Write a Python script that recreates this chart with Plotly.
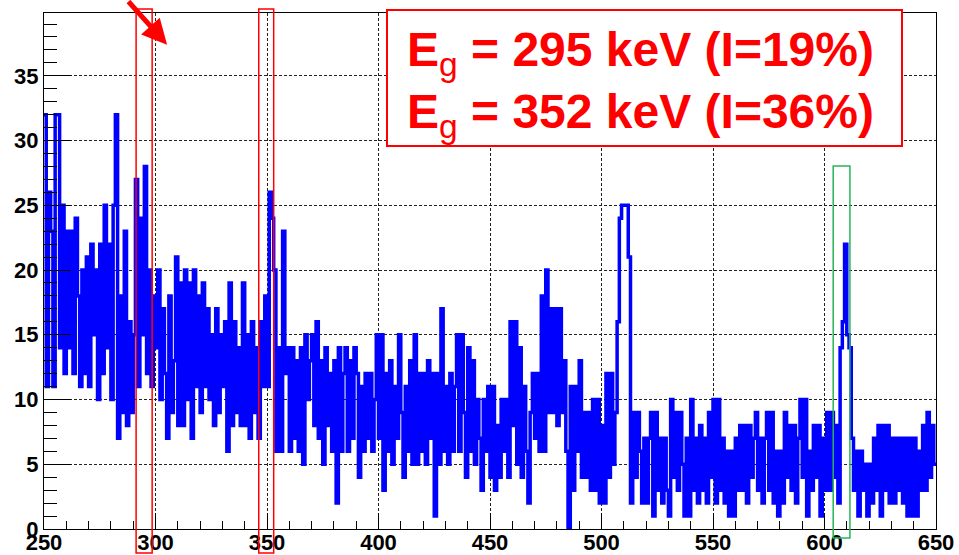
import numpy as np
import plotly.graph_objects as go

# Histogram: counts per 1-keV bin from 250 to 650 keV (lower bin edges)
bin_start = 250
bin_width = 1
counts = [
    32, 11, 26, 23, 11, 32, 32, 14, 25, 12,
    23, 14, 23, 12, 24, 18, 11, 20, 12, 21,
    11, 22, 15, 20, 10, 22, 12, 25, 14, 22,
    10, 25, 32, 7, 18, 9, 23, 8, 16, 9,
    15, 27, 11, 24, 15, 28, 12, 20, 11, 18,
    14, 20, 10, 17, 12, 7, 18, 9, 13, 21,
    8, 19, 8, 20, 10, 19, 7, 20, 11, 18,
    9, 19, 11, 17, 10, 15, 8, 17, 9, 15,
    11, 16, 6, 19, 8, 16, 9, 14, 8, 19,
    8, 15, 7, 16, 9, 14, 7, 16, 11, 18,
    11, 26, 24, 20, 6, 14, 6, 23, 12, 14,
    6, 14, 7, 13, 6, 14, 5, 15, 10, 13,
    15, 8, 16, 7, 13, 5, 14, 8, 12, 6,
    13, 2, 14, 6, 12, 14, 6, 13, 7, 14,
    12, 4, 11, 6, 12, 7, 12, 6, 10, 15,
    7, 15, 3, 12, 6, 13, 5, 11, 7, 15,
    9, 4, 11, 6, 13, 5, 15, 5, 12, 6,
    12, 5, 13, 7, 12, 1, 12, 5, 17, 6,
    11, 5, 12, 6, 11, 15, 6, 15, 9, 4,
    14, 6, 13, 5, 10, 7, 3, 10, 6, 11,
    4, 11, 3, 8, 4, 10, 6, 10, 4, 16,
    8, 16, 5, 14, 4, 11, 6, 2, 9, 12,
    7, 12, 6, 18, 6, 20, 9, 17, 9, 17,
    8, 17, 9, 13, 6, 0, 11, 3, 11, 6,
    13, 4, 9, 4, 9, 3, 10, 3, 10, 2,
    8, 2, 12, 4, 12, 5, 9, 16, 24, 25,
    25, 25, 21, 2, 9, 4, 9, 6, 2, 7,
    2, 7, 9, 1, 9, 3, 7, 2, 7, 3,
    1, 10, 4, 9, 3, 9, 5, 1, 7, 1,
    10, 3, 7, 2, 8, 3, 7, 2, 9, 4,
    10, 2, 10, 3, 7, 2, 6, 1, 6, 1,
    7, 3, 8, 3, 8, 2, 8, 4, 7, 9,
    3, 7, 2, 7, 9, 3, 9, 2, 6, 1,
    6, 2, 9, 4, 8, 3, 8, 2, 7, 10,
    4, 10, 1, 6, 3, 8, 4, 8, 1, 7,
    3, 9, 3, 9, 4, 8, 2, 14, 16, 22,
    15, 14, 7, 3, 6, 1, 6, 3, 5, 1,
    5, 2, 7, 3, 8, 1, 8, 3, 8, 2,
    7, 2, 7, 3, 7, 2, 7, 1, 7, 1,
    7, 1, 6, 3, 8, 3, 9, 4, 8, 5,
]

x_range = [250, 650]
y_range = [0, 39.85]
x_ticks = [250, 300, 350, 400, 450, 500, 550, 600, 650]
y_ticks = [0, 5, 10, 15, 20, 25, 30, 35]

# highlighted windows (keV)
red_windows = [(291.3, 298.5), (346.3, 353.0)]
green_windows = [(603.9, 611.4)]

label_lines = ["295 keV (I=19%)", "352 keV (I=36%)"]

edges = bin_start + bin_width * np.arange(len(counts) + 1)
y_step = list(counts) + [counts[-1]]

fig = go.Figure()
fig.add_trace(go.Scatter(
    x=edges, y=y_step, mode="lines", line_shape="hv",
    line=dict(color="#0000ff", width=3.5), showlegend=False, hoverinfo="skip",
))

tickfont = dict(family="Liberation Sans, Arial, sans-serif", size=22, color="black", weight="bold")
grid = dict(showgrid=True, gridcolor="#222", gridwidth=1, griddash="3px,2px")

fig.update_xaxes(
    range=x_range, tickvals=x_ticks, ticks="inside", ticklen=16, tickwidth=1,
    tickcolor="black", showline=True, linecolor="black", linewidth=1, mirror=True,
    tickfont=tickfont, zeroline=False, automargin=False, ticklabelstandoff=-6,
    minor=dict(dtick=10, ticks="inside", ticklen=8, tickcolor="black", showgrid=False),
    **grid,
)
fig.update_yaxes(
    range=y_range, tickvals=y_ticks, ticks="inside", ticklen=27, tickwidth=1,
    tickcolor="black", showline=True, linecolor="black", linewidth=1, mirror=True,
    tickfont=tickfont, zeroline=False, automargin=False,
    minor=dict(dtick=1, ticks="inside", ticklen=13, tickcolor="black", showgrid=False),
    **grid,
)

L, R, T, B = 44, 23, 13, 26
W, H = 959, 555
pw, ph = W - L - R, H - T - B

def px_x(p):
    return (p - L) / pw

def px_y(p):
    return (H - B - p) / ph

shapes = []
for a, b in red_windows:
    shapes.append(dict(type="rect", xref="x", yref="paper", x0=a, x1=b,
                       y0=px_y(553), y1=px_y(9), line=dict(color="red", width=1.5),
                       layer="above"))
for a, b in green_windows:
    shapes.append(dict(type="rect", xref="x", yref="paper", x0=a, x1=b,
                       y0=px_y(538), y1=px_y(166), line=dict(color="rgb(40,180,90)", width=1.5),
                       layer="above"))
shapes.append(dict(type="rect", xref="paper", yref="paper", x0=px_x(387), x1=px_x(902),
                   y0=px_y(146), y1=px_y(10), line=dict(color="red", width=2),
                   fillcolor="white", layer="above"))

text = "<br>".join(
    "<b>E</b><sub><span style='font-weight:normal'>g</span></sub><b> = " + s + "</b>"
    for s in label_lines
)

annotations = [
    dict(xref="paper", yref="paper", x=px_x(405), y=px_y(21), xanchor="left", yanchor="top",
         text=text, showarrow=False, align="left",
         font=dict(family="Liberation Sans, Arial, sans-serif", size=48, color="red")),
    dict(xref="x", yref="y", x=305.2, y=37.4, text="", showarrow=True,
         arrowhead=2, arrowsize=1.0, arrowwidth=5, arrowcolor="red",
         ax=-40, ay=-58, axref="pixel", ayref="pixel"),
]

fig.update_layout(
    width=W, height=H, margin=dict(l=L, r=R, t=T, b=B),
    paper_bgcolor="white", plot_bgcolor="white",
    shapes=shapes, annotations=annotations,
)

fig.write_html("out.html")
